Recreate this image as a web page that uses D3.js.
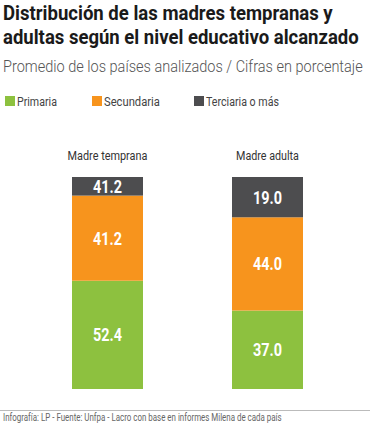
<!DOCTYPE html>
<html>
<head>
<meta charset="utf-8">
<script src="https://cdn.jsdelivr.net/npm/d3@7"></script>
<style>
  body { margin: 0; background: #fff; }
  svg { display: block; }
  text { font-family: Roboto, "Liberation Sans", sans-serif; }
</style>
</head>
<body>
<div id="chart"></div>
<script>
// Data
var categories = ["Madre temprana", "Madre adulta"];
var levels = ["Primaria", "Secundaria", "Terciaria o más"];
var primaria = [52.4, 37.0];
var secundaria = [41.2, 44.0];
var terciaria = [9.0, 19.0];
// printed labels (as in the original graphic)
var labelPrimaria = ["52.4", "37.0"];
var labelSecundaria = ["41.2", "44.0"];
var labelTerciaria = ["41.2", "19.0"];

var colors = ["#8dc13f", "#f7941d", "#4d4d4f"];

var w = 375;
var h = 426;

// squeeze a text horizontally to a given width, around its anchor x
function squeeze(sel, width) {
  sel.each(function() {
    var t = d3.select(this);
    var k = width / this.getComputedTextLength();
    var x0 = +t.attr("x") || 0;
    t.attr("transform", "translate(" + x0 + ",0) scale(" + k + ",1) translate(" + (-x0) + ",0)");
  });
}

var svg = d3.select("#chart")
  .append("svg")
  .attr("width", w)
  .attr("height", h);

// Title
var titleLines = ["Distribución de las madres tempranas y",
                  "adultas según el nivel educativo alcanzado"];
var titleWidths = [330, 356];
svg.selectAll(".title")
  .data(titleLines)
  .enter().append("text")
  .attr("class", "title")
  .attr("x", 3)
  .attr("y", function(d, i) { return 20 + i * 24; })
  .style("font-size", "20px")
  .style("font-weight", "bold")
  .style("fill", "#1a1a1a")
  .text(function(d) { return d; })
  .each(function(d, i) { squeeze(d3.select(this), titleWidths[i]); });

svg.append("text")
  .attr("x", 3)
  .attr("y", 72)
  .style("font-weight", 300)
  .style("font-size", "16px")
  .style("fill", "#555")
  .text("Promedio de los países analizados / Cifras en porcentaje")
  .call(squeeze, 360);

// Legend
var legendX = [5, 92, 194];
var legendW = [40, 56, 73];
var legend = svg.selectAll(".legend")
  .data(levels)
  .enter().append("g")
  .attr("class", "legend")
  .attr("transform", function(d, i) { return "translate(" + legendX[i] + ",96)"; });

legend.append("rect")
  .attr("width", 10)
  .attr("height", 10)
  .style("fill", function(d, i) { return colors[i]; });

legend.append("text")
  .attr("x", 12)
  .attr("y", 10)
  .style("font-size", "13px")
  .style("fill", "#444")
  .text(function(d) { return d; })
  .each(function(d, i) { squeeze(d3.select(this), legendW[i]); });

// Scales
var xScale = d3.scaleBand()
  .domain(categories)
  .range([40, 335])
  .paddingInner(0.55625)
  .paddingOuter(0.2);

var yScale = d3.scaleLinear()
  .domain([0, 1])
  .range([389, 177]);

var table = categories.map(function(c, i) {
  return { cat: c, p: primaria[i], s: secundaria[i], t: terciaria[i] };
});
var labels = [labelPrimaria, labelSecundaria, labelTerciaria];

var stack = d3.stack()
  .keys(["p", "s", "t"])
  .offset(d3.stackOffsetExpand);

var series = stack(table);

var groups = svg.selectAll(".serie")
  .data(series)
  .enter().append("g")
  .attr("class", "serie")
  .style("fill", function(d, i) { return colors[i]; });

groups.selectAll("rect")
  .data(function(d) { return d; })
  .enter().append("rect")
  .attr("x", function(d) { return xScale(d.data.cat); })
  .attr("width", xScale.bandwidth())
  .attr("y", function(d) { return yScale(d[1]); })
  .attr("height", function(d) { return yScale(d[0]) - yScale(d[1]); });

groups.each(function(s, si) {
  d3.select(this).selectAll("text")
    .data(s)
    .enter().append("text")
    .attr("x", function(d) { return xScale(d.data.cat) + xScale.bandwidth() / 2; })
    .attr("y", function(d) { return (yScale(d[0]) + yScale(d[1])) / 2; })
    .attr("dy", "0.36em")
    .attr("text-anchor", "middle")
    .style("font-size", "18px")
    .style("font-weight", "bold")
    .style("fill", "#fff")
    .text(function(d, i) { return labels[si][i]; })
    .call(squeeze, 29);
});

// Category labels
var catW = [80, 63];
svg.selectAll(".cat")
  .data(categories)
  .enter().append("text")
  .attr("class", "cat")
  .attr("x", function(d) { return xScale(d) + xScale.bandwidth() / 2; })
  .attr("y", 160)
  .attr("text-anchor", "middle")
  .style("font-size", "13.5px")
  .style("fill", "#333")
  .text(function(d) { return d; })
  .each(function(d, i) { squeeze(d3.select(this), catW[i]); });

// Footer
svg.append("line")
  .attr("x1", 0)
  .attr("x2", 370)
  .attr("y1", 410.5)
  .attr("y2", 410.5)
  .style("stroke", "#bbb")
  .style("stroke-width", 1);

svg.append("text")
  .attr("x", 3)
  .attr("y", 421)
  .style("font-size", "10px")
  .style("fill", "#666")
  .text("Infografía: LP - Fuente: Unfpa - Lacro con base en informes Milena de cada país")
  .call(squeeze, 279);
</script>
</body>
</html>
